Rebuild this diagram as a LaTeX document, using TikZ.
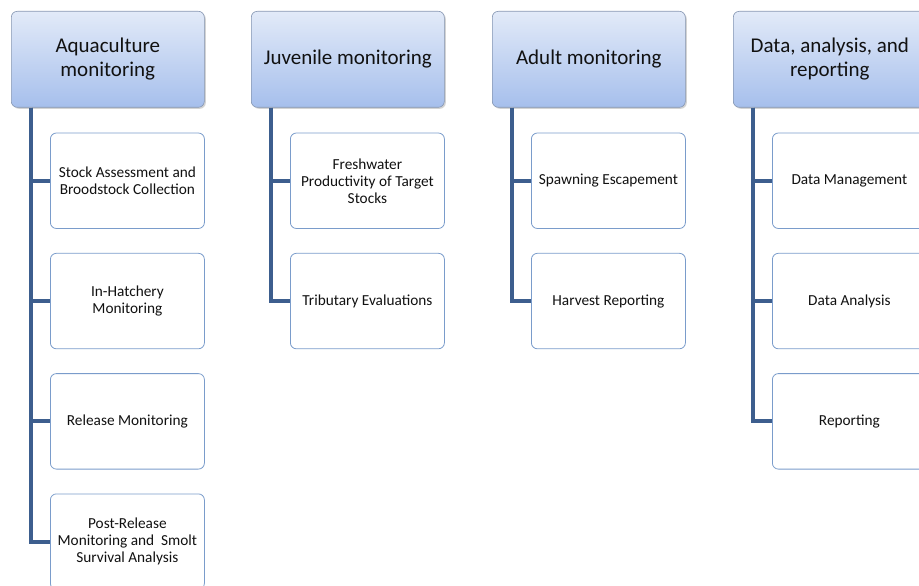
\documentclass[tikz,border=0pt]{standalone}
\usepackage{fontspec}
\setmainfont{Carlito}
\usepackage{tikz}
\usetikzlibrary{positioning,calc,shadows}

\definecolor{trunkblue}{HTML}{3D5E8E}
\definecolor{leafline}{HTML}{7A9CCB}
\definecolor{headtop}{HTML}{E2EAF8}
\definecolor{headbot}{HTML}{A6BFEC}
\definecolor{headline}{HTML}{8596B2}
\definecolor{txt}{HTML}{111111}

\begin{document}
\begin{tikzpicture}[
    x=1pt, y=1pt,
    node distance=24pt,
    text=txt,
    header/.style={draw=headline, rounded corners=6pt, top color=headtop, bottom color=headbot,
        minimum width=193pt, minimum height=96pt, align=center, font=\fontsize{21}{24}\selectfont,
        line width=0.6pt, drop shadow={shadow xshift=1.5pt, shadow yshift=-1.5pt, opacity=0.35}},
    leaf/.style={draw=leafline, rounded corners=6pt, fill=white, minimum width=154pt, minimum height=95.5pt,
        align=center, font=\fontsize{15.3}{17}\selectfont, line width=0.8pt},
    trunk/.style={draw=trunkblue, line width=3.8pt}
]
\useasboundingbox (0,0) rectangle (919,-586);

% column headers
\node[header, anchor=north west] (aqua) at (11,-11) {Aquaculture\\monitoring};
\node[header, anchor=north west] (juv) at (251,-11) {Juvenile monitoring};
\node[header, anchor=north west] (adult) at (492,-11) {Adult monitoring};
\node[header, anchor=north west] (data) at (733,-11) {Data, analysis, and\\reporting};

% aquaculture items
\node[leaf, anchor=north west] (aqua1) at ($(aqua.south west)+(39,-25)$) {Stock Assessment and\\Broodstock Collection};
\node[leaf, below=of aqua1] (aqua2) {In-Hatchery\\Monitoring};
\node[leaf, below=of aqua2] (aqua3) {Release Monitoring};
\node[leaf, below=of aqua3] (aqua4) {Post-Release\\Monitoring and\ \ Smolt\\Survival Analysis};

% juvenile items
\node[leaf, anchor=north west] (juv1) at ($(juv.south west)+(39,-25)$) {Freshwater\\Productivity of Target\\Stocks};
\node[leaf, below=of juv1] (juv2) {Tributary Evaluations};

% adult items
\node[leaf, anchor=north west] (adult1) at ($(adult.south west)+(39,-25)$) {Spawning Escapement};
\node[leaf, below=of adult1] (adult2) {Harvest Reporting};

% data items
\node[leaf, anchor=north west] (data1) at ($(data.south west)+(39,-25)$) {Data Management};
\node[leaf, below=of data1] (data2) {Data Analysis};
\node[leaf, below=of data2] (data3) {Reporting};

% trunk lines
\coordinate (aquaT) at ($(aqua.south west)+(20,0)$);
\coordinate (juvT) at ($(juv.south west)+(20,0)$);
\coordinate (adultT) at ($(adult.south west)+(20,0)$);
\coordinate (dataT) at ($(data.south west)+(20,0)$);

\draw[trunk] (aquaT) |- (aqua1.west);
\draw[trunk] (aquaT) |- (aqua2.west);
\draw[trunk] (aquaT) |- (aqua3.west);
\draw[trunk] (aquaT) |- (aqua4.west);
\draw[trunk] (juvT) |- (juv1.west);
\draw[trunk] (juvT) |- (juv2.west);
\draw[trunk] (adultT) |- (adult1.west);
\draw[trunk] (adultT) |- (adult2.west);
\draw[trunk] (dataT) |- (data1.west);
\draw[trunk] (dataT) |- (data2.west);
\draw[trunk] (dataT) |- (data3.west);
\end{tikzpicture}
\end{document}
